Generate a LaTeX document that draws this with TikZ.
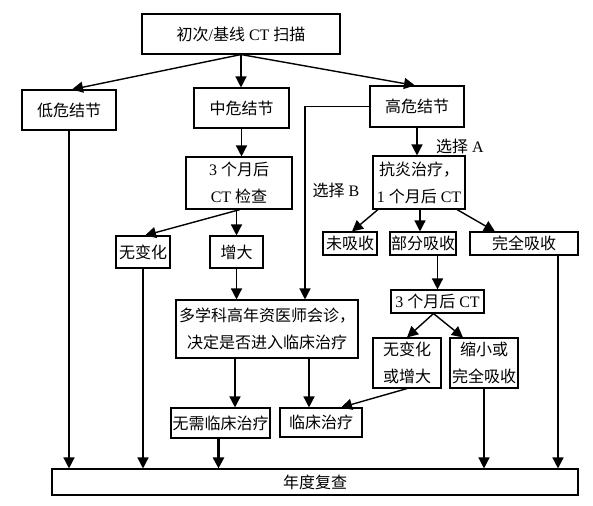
\documentclass[tikz,border=0pt]{standalone}
\usepackage{fontspec}
\setmainfont{Liberation Serif}
\newfontfamily\zh{Noto Sans CJK SC}
\usetikzlibrary{arrows.meta,calc}
\begin{document}
\begin{tikzpicture}[x=1pt,y=-1pt,
  box/.style={draw, line width=1.1pt, inner sep=0pt, align=center, font=\fontsize{16}{27}\selectfont},
  lbl/.style={inner sep=0pt, font=\fontsize{16}{27}\selectfont},
  arr/.style={line width=1.4pt, -{Triangle[length=11pt,width=11pt]}},
  thickarr/.style={line width=2.6pt, -{Triangle[length=11pt,width=11pt]}}]
\useasboundingbox (0,0) rectangle (593,505);
\node[box, minimum width=198, minimum height=40] (top) at (241,34) {{\zh 初次}/{\zh 基线} CT {\zh 扫描}};
\node[box, minimum width=94, minimum height=40] (low) at (69,110) {\zh 低危结节};
\node[box, minimum width=95, minimum height=40] (mid) at (241.5,108) {\zh 中危结节};
\node[box, minimum width=94, minimum height=41] (high) at (417,106.5) {\zh 高危结节};
\node[box, minimum width=106, minimum height=52] (ct3) at (239,183) {3 {\zh 个月后}\\CT {\zh 检查}};
\node[box, minimum width=54, minimum height=32] (nochg) at (143,252) {\zh 无变化};
\node[box, minimum width=53, minimum height=32] (grow) at (236.5,252) {\zh 增大};
\node[box, minimum width=182, minimum height=58] (multi) at (267,329) {\zh 多学科高年资医师会诊，\\\zh 决定是否进入临床治疗};
\node[box, minimum width=92, minimum height=53] (anti) at (419,182.5) {\zh 抗炎治疗，\\1 {\zh 个月后} CT};
\node[box, minimum width=54, minimum height=23] (unabs) at (350,243.5) {\zh 未吸收};
\node[box, minimum width=66, minimum height=23] (part) at (423,243.5) {\zh 部分吸收};
\node[box, minimum width=108, minimum height=23] (full) at (524,243.5) {\zh 完全吸收};
\node[box, minimum width=93, minimum height=23] (ct1m) at (437.5,301.5) {3 {\zh 个月后} CT};
\node[box, minimum width=68, minimum height=50] (nochg2) at (407,363) {\zh 无变化\\\zh 或增大};
\node[box, minimum width=68, minimum height=50] (shrink) at (484,363) {\zh 缩小或\\\zh 完全吸收};
\node[box, minimum width=82, minimum height=29] (clin) at (321,422.5) {\zh 临床治疗};
\node[box, minimum width=99, minimum height=30] (noclin) at (220.5,423) {\zh 无需临床治疗};
\node[box, minimum width=526, minimum height=26] (year) at (315,482) {\zh 年度复查};
\node[lbl] (selA) at (460,146) {{\zh 选择} A};
\node[lbl] (selB) at (336,190) {{\zh 选择} B};

\draw[arr] (top.south) -- ([xshift=3]low.north);
\draw[arr] (top.south) -- (top.south |- mid.north);
\draw[arr] (top.south) -- ([xshift=-2]high.north);
\draw[arr] (mid.south) -- (mid.south |- ct3.north);
\draw[arr] ([xshift=1]ct3.south) -- ([xshift=2]nochg.north);
\draw[arr] (grow.north |- ct3.south) -- (grow.north);
\draw[arr] (grow.south) -- (grow.south |- multi.north);
\draw[arr] (high.west) -| ([xshift=38]multi.north);
\draw[arr] (high.south) -- (high.south |- anti.north);
\draw[arr] ([xshift=-41]anti.south) -- ([xshift=2]unabs.north);
\draw[arr] ([xshift=-3]part.north |- anti.south) -- ([xshift=-3]part.north);
\draw[arr] ([xshift=38]anti.south) -- ([xshift=-29]full.north);
\draw[arr] (ct1m.north |- part.south) -- (ct1m.north);
\draw[arr] ([xshift=-4]ct1m.south) -- (nochg2.north);
\draw[arr] ([xshift=-4]ct1m.south) -- ([xshift=-21]shrink.north);
\draw[arr] ([xshift=-32]multi.south) -- ([xshift=-32]multi.south |- noclin.north);
\draw[arr] ([xshift=42]multi.south) -- ([xshift=42]multi.south |- clin.north);
\draw[arr] (nochg2.south) -- ([xshift=20]clin.north);
\draw[arr] (low.south) -- (low.south |- year.north);
\draw[arr] (nochg.south) -- (nochg.south |- year.north);
\draw[thickarr] ([xshift=-2]noclin.south) -- ([xshift=-2]noclin.south |- year.north);
\draw[arr] (shrink.south) -- (shrink.south |- year.north);
\draw[arr] ([xshift=34]full.south) -- ([xshift=34]full.south |- year.north);
\end{tikzpicture}
\end{document}
